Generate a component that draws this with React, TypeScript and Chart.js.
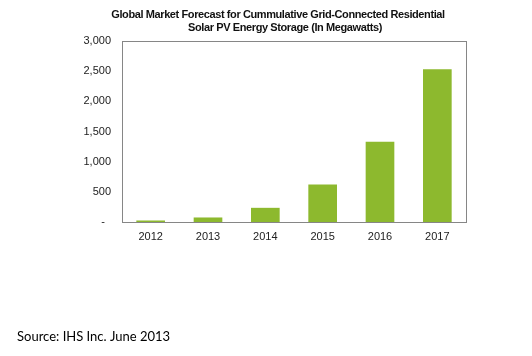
import React, { useEffect, useRef } from "react";
import { Chart, registerables } from "chart.js";

Chart.register(...registerables);

const categories = ["2012", "2013", "2014", "2015", "2016", "2017"];
const storageMW = [25, 75, 235, 620, 1330, 2530];
const yTickValues = [0, 500, 1000, 1500, 2000, 2500, 3000];
const titleLines = [
  "Global Market Forecast for Cummulative Grid-Connected Residential",
  "Solar PV Energy Storage (In Megawatts)",
];
const sourceText = "Source: IHS Inc. June 2013";

const fmt = (v: number) => (v === 0 ? "-  " : v.toLocaleString("en-US"));

export default function App() {
  const ref = useRef<HTMLCanvasElement | null>(null);

  useEffect(() => {
    document.body.style.margin = "0";
    const canvas = ref.current!;
    const decor = {
      id: "decor",
      afterDraw(chart: any) {
        const { ctx, chartArea } = chart;
        ctx.save();
        ctx.strokeStyle = "#868686";
        ctx.lineWidth = 1;
        ctx.strokeRect(
          Math.round(chartArea.left) + 0.5,
          Math.round(chartArea.top) + 0.5,
          Math.round(chartArea.right - chartArea.left),
          Math.round(chartArea.bottom - chartArea.top)
        );
        ctx.fillStyle = "#111";
        ctx.font = "bold 11px 'Liberation Sans', Arial";
        (ctx as any).letterSpacing = "-0.4px";
        ctx.textAlign = "center";
        ctx.textBaseline = "middle";
        ctx.fillText(titleLines[0], 278, 15);
        ctx.fillText(titleLines[1], 285, 28);
        (ctx as any).letterSpacing = "0px";
        ctx.fillStyle = "#000";
        ctx.font = "13px Lato, 'Open Sans', sans-serif";
        ctx.textAlign = "left";
        ctx.fillText(sourceText, 17, 337);
        ctx.restore();
      },
    };
    const chart = new Chart(canvas, {
      type: "bar",
      data: {
        labels: categories,
        datasets: [
          {
            data: storageMW,
            backgroundColor: "#8DB92E",
            barPercentage: 0.5,
            categoryPercentage: 1,
          },
        ],
      },
      options: {
        animation: false,
        responsive: false,
        layout: { padding: { left: 0, right: 66, top: 41, bottom: 0 } },
        plugins: { legend: { display: false }, tooltip: { enabled: false } },
        scales: {
          x: {
            grid: { display: false, drawTicks: false },
            border: { display: false },
            ticks: {
              padding: 8,
              color: "#222",
              font: { family: "'Liberation Sans', Arial", size: 11 },
            },
            afterFit: (s: any) => {
              s.height = 134;
            },
          },
          y: {
            min: 0,
            max: 3000,
            grid: { display: false, drawTicks: false },
            border: { display: false },
            afterBuildTicks: (s: any) => {
              s.ticks = yTickValues.map((v) => ({ value: v }));
            },
            ticks: {
              padding: 11,
              color: "#222",
              font: { family: "'Liberation Sans', Arial", size: 11 },
              callback: (v: any) => fmt(Number(v)),
            },
            afterFit: (s: any) => {
              s.width = 122;
            },
          },
        },
      },
      plugins: [decor],
    });
    return () => chart.destroy();
  }, []);

  return (
    <div style={{ position: "absolute", left: 0, top: 0, width: 532, height: 356, background: "#fff" }}>
      <canvas ref={ref} width={532} height={356} style={{ display: "block" }} />
    </div>
  );
}
